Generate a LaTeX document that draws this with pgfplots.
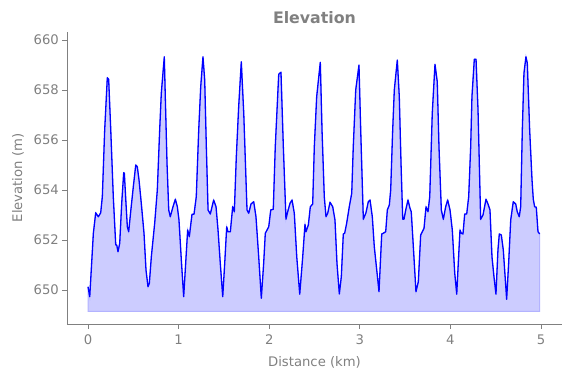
\documentclass[border=0pt]{standalone}
\usepackage{pgfplots}
\usepackage{pgfplotstable}
\pgfplotsset{compat=1.18}
\usepackage{fontspec}
\setmainfont{DejaVu Sans}
\definecolor{txtgray}{HTML}{808080}
\definecolor{fillblue}{HTML}{CCCCFF}
\definecolor{edgeblue}{HTML}{B3B3FF}
\pgfplotstableread{
km elev
0.000 650.13
0.019 649.73
0.059 652.27
0.085 653.09
0.114 652.93
0.140 653.09
0.158 653.73
0.184 656.40
0.213 658.49
0.228 658.43
0.251 656.40
0.279 653.73
0.306 651.80
0.317 651.80
0.331 651.53
0.350 651.87
0.372 653.47
0.394 654.69
0.401 654.67
0.419 653.47
0.434 652.53
0.449 652.33
0.471 653.13
0.500 654.13
0.527 655.00
0.544 654.93
0.563 654.40
0.588 653.47
0.618 652.27
0.640 650.80
0.662 650.13
0.677 650.27
0.699 651.33
0.736 652.67
0.765 654.00
0.791 656.40
0.809 657.87
0.842 659.33
0.853 657.73
0.872 655.07
0.891 653.20
0.908 652.93
0.938 653.33
0.964 653.63
0.986 653.33
1.004 652.80
1.030 651.20
1.056 649.73
1.078 651.07
1.100 652.40
1.118 652.13
1.148 653.03
1.170 653.03
1.195 653.73
1.222 656.40
1.244 658.13
1.269 659.33
1.288 658.40
1.306 655.73
1.325 653.20
1.350 653.04
1.387 653.60
1.413 653.33
1.435 652.40
1.460 651.07
1.487 649.73
1.509 651.07
1.531 652.53
1.545 652.33
1.571 652.33
1.597 653.33
1.615 653.13
1.637 655.33
1.663 657.33
1.692 659.13
1.719 657.07
1.755 653.20
1.774 653.07
1.799 653.44
1.829 653.53
1.854 652.93
1.884 651.33
1.913 649.67
1.939 651.07
1.957 652.27
1.976 652.40
1.995 652.53
2.017 653.20
2.045 653.23
2.067 655.73
2.105 658.63
2.130 658.71
2.156 655.73
2.185 652.83
2.204 653.13
2.230 653.47
2.252 653.60
2.277 653.07
2.304 651.33
2.337 649.83
2.370 651.33
2.395 652.63
2.406 652.33
2.432 652.60
2.454 653.33
2.480 653.44
2.498 655.73
2.524 657.73
2.564 659.11
2.583 656.40
2.608 653.73
2.627 652.93
2.646 653.07
2.671 653.51
2.701 653.33
2.726 652.80
2.748 651.07
2.774 649.84
2.796 650.53
2.818 652.24
2.833 652.27
2.855 652.67
2.884 653.33
2.911 653.87
2.928 655.73
2.955 658.00
2.991 659.00
3.010 656.40
3.039 652.83
3.068 653.09
3.094 653.53
3.113 653.60
3.138 652.93
3.160 651.73
3.187 650.80
3.212 649.93
3.242 652.24
3.259 652.27
3.286 652.33
3.304 653.20
3.326 653.40
3.341 654.00
3.363 656.40
3.381 658.00
3.414 659.20
3.436 657.73
3.455 655.07
3.474 652.83
3.488 652.83
3.507 653.20
3.532 653.60
3.554 653.27
3.568 653.13
3.591 651.73
3.620 649.93
3.646 650.33
3.672 652.20
3.690 652.33
3.709 652.47
3.731 653.33
3.753 653.13
3.772 653.73
3.800 657.07
3.830 659.03
3.855 658.33
3.874 655.73
3.900 653.20
3.922 652.83
3.948 653.33
3.970 653.60
3.996 653.20
4.021 652.40
4.048 650.67
4.070 649.83
4.087 651.07
4.106 652.40
4.120 652.27
4.139 652.24
4.158 653.04
4.180 653.04
4.202 653.73
4.224 655.73
4.238 657.73
4.264 659.23
4.283 659.23
4.305 657.20
4.334 652.83
4.360 653.00
4.393 653.63
4.415 653.44
4.437 653.20
4.459 651.33
4.481 650.53
4.503 649.83
4.525 651.60
4.540 652.24
4.562 652.20
4.584 651.60
4.599 650.80
4.621 649.63
4.643 651.07
4.666 652.80
4.694 653.53
4.721 653.44
4.738 653.13
4.760 652.93
4.776 653.33
4.794 656.40
4.812 658.67
4.834 659.33
4.849 659.07
4.875 656.40
4.901 654.40
4.915 653.63
4.930 653.33
4.948 653.31
4.967 652.33
4.986 652.24
}\elevdata
\begin{document}
\begin{tikzpicture}
\begin{axis}[
  at={(0,0)}, anchor=south west,
  scale only axis, width=495bp, height=292bp,
  xmin=-0.232, xmax=5.232,
  ymin=648.64, ymax=660.32,
  axis x line*=bottom, axis y line*=left,
  axis line style={txtgray, line width=0.8bp, -},
  tick align=outside,
  major tick length=4.6bp,
  tick style={txtgray, line width=0.8bp},
  xtick={0,1,2,3,4,5},
  ytick={650,652,654,656,658,660},
  /pgf/number format/assume math mode=true,
  /pgf/number format/1000 sep={},
  ticklabel style={font=\fontsize{13.2bp}{15bp}\selectfont, text=txtgray},
  xticklabel style={yshift=-3bp},
  xlabel={Distance (km)},
  ylabel={Elevation (m)},
  label style={font=\fontsize{13.2bp}{15bp}\selectfont, text=txtgray},
  xlabel style={yshift=-5bp},
  ylabel style={yshift=3bp},
  title={Elevation},
  title style={font=\bfseries\fontsize{15.8bp}{18bp}\selectfont, text=txtgray, yshift=-1bp},
]
\addplot[fill=fillblue, draw=edgeblue, line width=1bp] table[x=km, y=elev] {\elevdata}
  -- (axis cs:4.986,649.15) -- (axis cs:0,649.15) -- cycle;
\addplot[blue, line width=1.3bp, line join=round] table[x=km, y=elev] {\elevdata};
\end{axis}
\path[use as bounding box] (-67bp,-54bp) rectangle (504bp,324bp);
\end{tikzpicture}
\end{document}
